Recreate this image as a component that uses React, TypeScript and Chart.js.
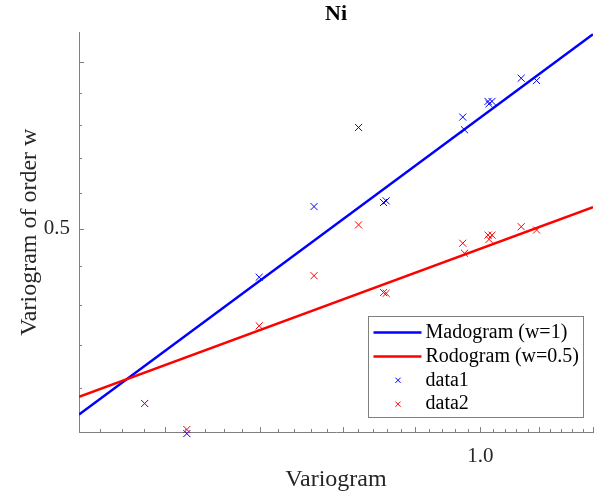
import React, { useEffect, useRef } from 'react';
import { Chart, registerables } from 'chart.js';

Chart.register(...registerables);

// ---- data ----
const pointX = [0.5805, 0.6216, 0.6989, 0.7638, 0.8209, 0.8548, 0.8584, 0.9718, 0.9746, 1.0124, 1.0189, 1.0141, 1.0683, 1.0952];
const data1Values = [0.4127, 0.3993, 0.4740, 0.5122, 0.5586, 0.5145, 0.5154, 0.5650, 0.5572, 0.5748, 0.5748, 0.5733, 0.5896, 0.5881];
const data2Values = [0.4127, 0.4011, 0.4494, 0.4748, 0.5020, 0.4661, 0.4657, 0.4920, 0.4866, 0.4964, 0.4964, 0.4941, 0.5010, 0.4992];
const fitX = [0.522, 1.2];
const madogramFit = [0.4077, 0.6188];
const rodogramFit = [0.4157, 0.5119];

const xTickValues = [0.54, 0.56, 0.58, 0.6, 0.62, 0.64, 0.66, 0.68, 0.7, 0.72, 0.74, 0.76, 0.78, 0.8, 0.82, 0.84, 0.86, 0.88, 0.9, 0.92, 0.94, 0.96, 0.98, 1.0, 1.02, 1.04, 1.06, 1.08, 1.1, 1.12, 1.14, 1.16, 1.18, 1.2];
const yTickValues = [0.42, 0.44, 0.46, 0.48, 0.5, 0.52, 0.54, 0.56, 0.58, 0.6];
const xLabelValues = [1.0];
const xLabelTexts = ['1.0'];
const yLabelValues = [0.5];
const yLabelTexts = ['0.5'];

const seriesLabels = ['Madogram (w=1)', 'Rodogram (w=0.5)', 'data1', 'data2'];

const BLUE = '#0000ff';
const RED = '#ff0000';
const AXIS = '#808080';
const TEXT = '#262626';
const FONT = "'Liberation Serif', 'Times New Roman', serif";

const labelFor = (v: number, vals: number[], texts: string[]) => {
  const i = vals.findIndex((u) => Math.abs(u - v) < 1e-9);
  return i >= 0 ? texts[i] : '';
};
const isMajor = (v: number) => Math.abs(v * 10 - Math.round(v * 10)) < 1e-6;

const innerTicks = {
  id: 'innerTicks',
  afterDraw(chart: any) {
    const { ctx, chartArea, scales } = chart;
    ctx.save();
    ctx.strokeStyle = AXIS;
    ctx.lineWidth = 1;
    for (const t of scales.x.ticks) {
      const px = Math.round(scales.x.getPixelForValue(t.value)) + 0.5;
      const len = isMajor(t.value) ? 5 : 3;
      ctx.beginPath();
      ctx.moveTo(px, chartArea.bottom);
      ctx.lineTo(px, chartArea.bottom - len);
      ctx.stroke();
    }
    for (const t of scales.y.ticks) {
      const py = Math.round(scales.y.getPixelForValue(t.value)) + 0.5;
      const len = isMajor(t.value) ? 5 : 3;
      ctx.beginPath();
      ctx.moveTo(chartArea.left, py);
      ctx.lineTo(chartArea.left + len, py);
      ctx.stroke();
    }
    ctx.restore();
  },
};

const boxLegend = {
  id: 'boxLegend',
  afterDraw(chart: any) {
    const { ctx, chartArea } = chart;
    const w = 215;
    const h = 101;
    const right = chartArea.right - 10;
    const bottom = chartArea.bottom - 15;
    const left = Math.round(right - w) + 0.5;
    const top = Math.round(bottom - h) + 0.5;
    ctx.save();
    ctx.fillStyle = '#ffffff';
    ctx.fillRect(left, top, w, h);
    ctx.strokeStyle = AXIS;
    ctx.lineWidth = 1;
    ctx.strokeRect(left, top, w, h);
    ctx.font = `20px ${FONT}`;
    ctx.textBaseline = 'middle';
    ctx.textAlign = 'left';
    chart.data.datasets.forEach((ds: any, i: number) => {
      const y = top + 16 + i * 23.9;
      if (ds.showLine) {
        ctx.strokeStyle = ds.borderColor;
        ctx.lineWidth = 2.5;
        ctx.beginPath();
        ctx.moveTo(left + 5, y);
        ctx.lineTo(left + 53, y);
        ctx.stroke();
      } else {
        ctx.strokeStyle = ds.borderColor;
        ctx.lineWidth = 1;
        const r = 2.6;
        const cx = left + 29.5;
        ctx.beginPath();
        ctx.moveTo(cx - r, y - r);
        ctx.lineTo(cx + r, y + r);
        ctx.moveTo(cx - r, y + r);
        ctx.lineTo(cx + r, y - r);
        ctx.stroke();
      }
      ctx.fillStyle = '#000000';
      ctx.fillText(ds.label, left + 57, y);
    });
    ctx.restore();
  },
};

export default function App() {
  const canvasRef = useRef<HTMLCanvasElement | null>(null);

  useEffect(() => {
    if (!canvasRef.current) return;
    Chart.defaults.font.family = FONT;
    const chart = new Chart(canvasRef.current, {
      type: 'scatter',
      data: {
        datasets: [
          {
            label: seriesLabels[0],
            data: fitX.map((x, i) => ({ x, y: madogramFit[i] })),
            showLine: true,
            borderColor: BLUE,
            backgroundColor: BLUE,
            borderWidth: 2.5,
            pointRadius: 0,
            order: 3,
          },
          {
            label: seriesLabels[1],
            data: fitX.map((x, i) => ({ x, y: rodogramFit[i] })),
            showLine: true,
            borderColor: RED,
            backgroundColor: RED,
            borderWidth: 2.5,
            pointRadius: 0,
            order: 2,
          },
          {
            label: seriesLabels[2],
            data: pointX.map((x, i) => ({ x, y: data1Values[i] })),
            showLine: false,
            borderColor: BLUE,
            backgroundColor: BLUE,
            pointStyle: 'crossRot',
            pointRadius: 5,
            borderWidth: 1,
            clip: false,
            order: 1,
          },
          {
            label: seriesLabels[3],
            data: pointX.map((x, i) => ({ x, y: data2Values[i] })),
            showLine: false,
            borderColor: RED,
            backgroundColor: RED,
            pointStyle: 'crossRot',
            pointRadius: 5,
            borderWidth: 1,
            clip: false,
            order: 0,
          },
        ],
      } as any,
      options: {
        responsive: false,
        animation: false,
        devicePixelRatio: 1,
        layout: { padding: { left: 0, right: 6, top: 0, bottom: 0 } },
        plugins: {
          legend: { display: false },
          tooltip: { enabled: false },
          title: {
            display: true,
            text: 'Ni',
            fullSize: false,
            color: '#000000',
            font: { size: 22, weight: 'bold', family: FONT },
            padding: { top: 1, bottom: 5 },
          },
        },
        scales: {
          x: {
            type: 'logarithmic',
            position: 'bottom',
            min: 0.522,
            max: 1.2,
            bounds: 'data',
            afterBuildTicks: (scale: any) => {
              scale.ticks = xTickValues.map((v) => ({ value: v }));
            },
            afterFit: (scale: any) => {
              scale.height = 69;
              scale.paddingLeft = 0;
              scale.paddingRight = 0;
            },
            ticks: {
              autoSkip: false,
              maxRotation: 0,
              minRotation: 0,
              padding: 12,
              color: TEXT,
              font: { size: 21, family: FONT },
              callback: (v: any) => labelFor(Number(v), xLabelValues, xLabelTexts),
            },
            grid: { display: false, drawTicks: false },
            border: { display: true, color: AXIS, width: 1 },
            title: {
              display: true,
              text: 'Variogram',
              color: TEXT,
              font: { size: 24, family: FONT },
              padding: { top: 0, bottom: 7 },
            },
          },
          y: {
            type: 'logarithmic',
            position: 'left',
            min: 0.4,
            max: 0.62,
            bounds: 'data',
            afterBuildTicks: (scale: any) => {
              scale.ticks = yTickValues.map((v) => ({ value: v }));
            },
            afterFit: (scale: any) => {
              scale.width = 79;
              scale.paddingTop = 0;
              scale.paddingBottom = 0;
            },
            ticks: {
              autoSkip: false,
              padding: 9,
              color: TEXT,
              font: { size: 21, family: FONT },
              callback: (v: any) => labelFor(Number(v), yLabelValues, yLabelTexts),
            },
            grid: { display: false, drawTicks: false },
            border: { display: true, color: AXIS, width: 1 },
            title: {
              display: true,
              text: 'Variogram of order w',
              color: TEXT,
              font: { size: 24, family: FONT },
              padding: { top: 15, bottom: 0 },
            },
          },
        },
      } as any,
      plugins: [innerTicks, boxLegend],
    });
    return () => chart.destroy();
  }, []);

  return (
    <div style={{ position: 'absolute', left: 0, top: 0, width: 599, height: 501, background: '#ffffff' }}>
      <canvas ref={canvasRef} width={599} height={501} style={{ display: 'block' }} />
    </div>
  );
}
